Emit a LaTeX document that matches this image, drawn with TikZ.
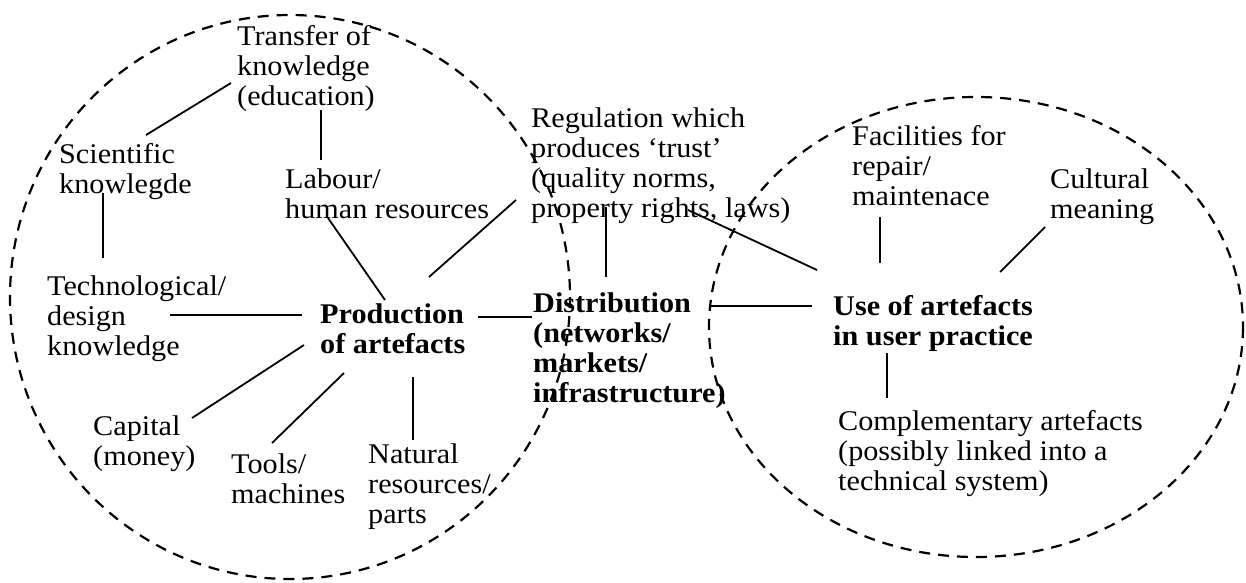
\documentclass[tikz,border=0pt]{standalone}
\usepackage{fontspec}
\setmainfont[FakeStretch=1.06]{Liberation Serif}
\usetikzlibrary{calc}
\begin{document}
\begin{tikzpicture}[x=1pt,y=-1pt,
  lbl/.style={anchor=base west, align=left, inner sep=0pt, font=\fontsize{28.5}{30}\selectfont},
  blbl/.style={lbl, font=\fontsize{28.5}{30}\selectfont\bfseries},
  conn/.style={line width=1.8pt},
  bound/.style={line width=2.2pt, dash pattern=on 11pt off 8pt}]
\useasboundingbox (0,0) rectangle (1246,582);
% boundaries
\draw[bound] (290,297) ellipse [x radius=280, y radius=282];
\draw[bound] (976,327) ellipse [x radius=267, y radius=230];
% nodes (placed at the baseline of their last line)
\node[lbl] (trans) at (237,105) {Transfer of\\knowledge\\(education)};
\node[lbl] (sci) at (59,193) {Scientific\\knowlegde};
\node[lbl] (lab) at (285,218) {Labour/\\human resources};
\node[lbl] (tech) at (47,355) {Technological/\\design\\knowledge};
\node[blbl] (prod) at (320,353) {Production\\of artefacts};
\node[blbl] (dist) at (533,402) {Distribution\\(networks/\\markets/\\infrastructure)};
\node[lbl] (reg) at (531,217) {Regulation which\\produces ‘trust’\\(quality norms,\\property rights, laws)};
\node[lbl] (fac) at (852,205) {Facilities for\\repair/\\maintenace};
\node[lbl] (cult) at (1050,218) {Cultural\\meaning};
\node[blbl] (use) at (833,345) {Use of artefacts\\in user practice};
\node[lbl] (comp) at (838,490) {Complementary artefacts\\(possibly linked into a\\technical system)};
\node[lbl] (cap) at (93,465) {Capital\\(money)};
\node[lbl] (tools) at (231,503) {Tools/\\machines};
\node[lbl] (nat) at (368,523) {Natural\\resources/\\parts};
% connectors
\draw[conn] ($(trans.base west)+(-6,-22)$) -- ($(sci.base west)+(87,-58)$);
\draw[conn] ($(trans.base west)+(84,5)$) -- ($(lab.base west)+(36,-58)$);
\draw[conn] ($(sci.base west)+(44,0)$) -- ($(tech.base west)+(56,-97)$);
\draw[conn] ($(lab.base west)+(43,0)$) -- ($(prod.base west)+(65,-53)$);
\draw[conn] ($(reg.base west)+(-15,-17)$) -- ($(prod.base west)+(109,-76)$);
\draw[conn] ($(tech.base west)+(123,-40)$) -- ($(prod.base west)+(-18,-38)$);
\draw[conn] ($(prod.base west)+(158,-36)$) -- ($(dist.base west)+(-1,-85)$);
\draw[conn] ($(prod.base west)+(-16,-8)$) -- ($(cap.base west)+(99,-47)$);
\draw[conn] ($(prod.base west)+(24,20)$) -- ($(tools.base west)+(41,-60)$);
\draw[conn] ($(prod.base west)+(93,24)$) -- ($(nat.base west)+(45,-83)$);
\draw[conn] ($(reg.base west)+(75,-10)$) -- ($(dist.base west)+(73,-125)$);
\draw[conn] ($(reg.base west)+(157,-7)$) -- ($(use.base west)+(-16,-75)$);
\draw[conn] ($(use.base west)+(-21,-39)$) -- ($(dist.base west)+(177,-96)$);
\draw[conn] ($(fac.base west)+(28,12)$) -- ($(use.base west)+(47,-82)$);
\draw[conn] ($(cult.base west)+(-5,9)$) -- ($(use.base west)+(167,-73)$);
\draw[conn] ($(use.base west)+(54,8)$) -- ($(comp.base west)+(49,-92)$);
\end{tikzpicture}
\end{document}
